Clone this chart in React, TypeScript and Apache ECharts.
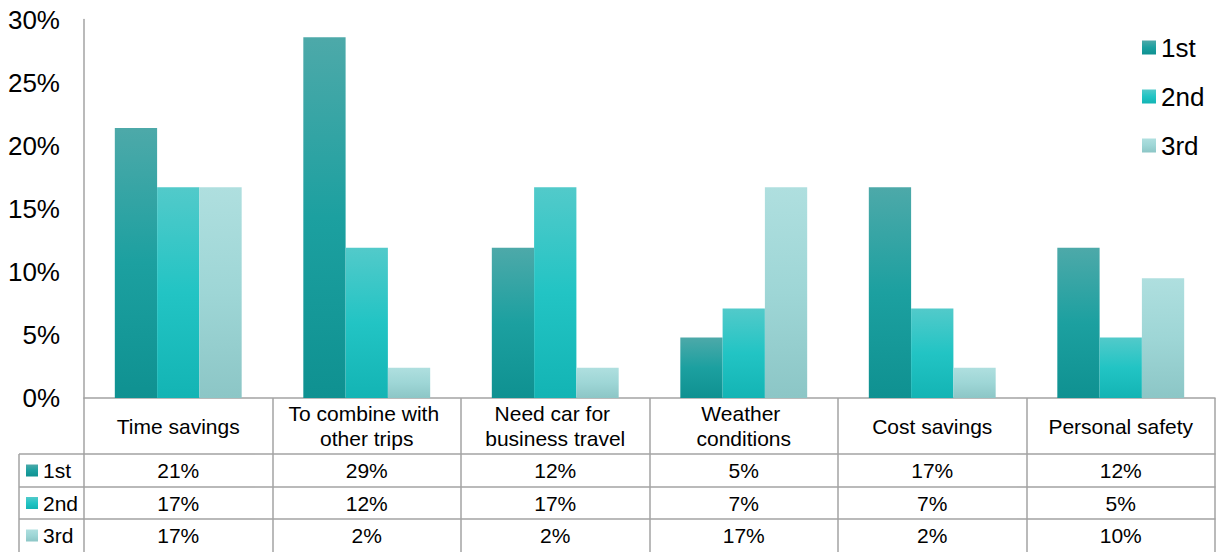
import { useEffect, useRef } from "react";
import * as echarts from "echarts";

// Reasons for driving, ranked 1st / 2nd / 3rd (share of respondents, %)
const categories = [
  "Time savings",
  "To combine with other trips",
  "Need car for business travel",
  "Weather conditions",
  "Cost savings",
  "Personal safety",
];
const seriesNames = ["1st", "2nd", "3rd"];
const firstValues = [21.4, 28.6, 11.9, 4.8, 16.7, 11.9];
const secondValues = [16.7, 11.9, 16.7, 7.1, 7.1, 4.8];
const thirdValues = [16.7, 2.4, 2.4, 16.7, 2.4, 9.5];
const yMin = 0;
const yMax = 30;
const yStep = 5;

// Layout
const WIDTH = 1216;
const HEIGHT = 552;
const GRID = { left: 84, right: 1, top: 19.5, bottom: 154 };
const TABLE_LEFT = 19;
const ROW_OFFSETS = [56, 89, 121]; // distance of each table row's top border below the x axis
const ROW_LABEL_MARGINS = [16.5, 16, 16.5];
const FONT = 'Arial, "Liberation Sans", sans-serif';
const BORDER = { color: "#A3A3A3", width: 1.5 };

const gradients = [
  ["#4DA9A9", "#1CA0A0", "#0F9191"],
  ["#52CACA", "#22C4C4", "#13B4B4"],
  ["#AFDFDF", "#9ED6D6", "#8CC6C6"],
];

const grad = (stops: string[]) =>
  new echarts.graphic.LinearGradient(
    0,
    0,
    0,
    1,
    stops.map((color, i) => ({ offset: i / (stops.length - 1), color }))
  );

const pct = (v: number) => `${Math.round(v)}%`;

export default function App() {
  const ref = useRef<HTMLDivElement>(null);

  useEffect(() => {
    if (!ref.current) return;
    const chart = echarts.init(ref.current, undefined, { renderer: "svg" });
    const rows = [firstValues, secondValues, thirdValues];
    const axisY = HEIGHT - GRID.bottom;

    const rowAxis = (values: number[], i: number) => ({
      type: "category",
      data: categories,
      gridIndex: 0,
      position: "bottom",
      offset: ROW_OFFSETS[i],
      axisLine: { show: true, onZero: false, lineStyle: BORDER },
      axisTick: { show: false },
      axisLabel: {
        interval: 0,
        margin: ROW_LABEL_MARGINS[i],
        verticalAlign: "middle",
        fontSize: 21,
        color: "#000",
        fontFamily: FONT,
        formatter: (_v: string, idx: number) => pct(values[idx]),
      },
    });

    // Left column of the data table: outer borders
    const columnLines = [
      {
        type: "line",
        shape: { x1: TABLE_LEFT, y1: axisY + ROW_OFFSETS[0], x2: TABLE_LEFT, y2: HEIGHT },
        style: { stroke: BORDER.color, lineWidth: BORDER.width },
      },
      ...ROW_OFFSETS.map((off) => ({
        type: "line",
        shape: { x1: TABLE_LEFT, y1: axisY + off, x2: GRID.left, y2: axisY + off },
        style: { stroke: BORDER.color, lineWidth: BORDER.width },
      })),
    ];

    chart.setOption({
      animation: false,
      backgroundColor: "#fff",
      textStyle: { fontFamily: FONT },
      grid: { ...GRID, containLabel: false },
      legend: [
        {
          data: seriesNames,
          orient: "vertical",
          left: 1142,
          top: 32.5,
          padding: 0,
          icon: "rect",
          itemWidth: 14,
          itemHeight: 14,
          itemGap: 19,
          selectedMode: false,
          textStyle: { fontSize: 26, lineHeight: 30, color: "#000", fontFamily: FONT },
        },
        {
          data: seriesNames,
          orient: "vertical",
          left: 26,
          top: axisY + ROW_OFFSETS[0] + 4.5,
          padding: 0,
          icon: "rect",
          itemWidth: 12,
          itemHeight: 12,
          itemGap: 8.5,
          selectedMode: false,
          textStyle: { fontSize: 21, lineHeight: 24, color: "#000", fontFamily: FONT },
        },
      ],
      xAxis: [
        {
          type: "category",
          data: categories,
          position: "bottom",
          axisLine: { show: true, onZero: false, lineStyle: BORDER },
          axisTick: {
            show: true,
            interval: 0,
            length: GRID.bottom,
            lineStyle: BORDER,
          },
          axisLabel: {
            interval: 0,
            margin: 28,
            width: 170,
            overflow: "break",
            verticalAlign: "middle",
            align: "center",
            lineHeight: 25,
            fontSize: 21,
            color: "#000",
            fontFamily: FONT,
          },
        },
        ...rows.map((values, i) => rowAxis(values, i)),
      ],
      yAxis: {
        type: "value",
        min: yMin,
        max: yMax,
        interval: yStep,
        axisLine: { show: true, lineStyle: BORDER },
        axisTick: { show: false },
        splitLine: { show: false },
        axisLabel: {
          formatter: "{value}%",
          fontSize: 26,
          margin: 24,
          color: "#000",
          fontFamily: FONT,
        },
      },
      series: rows.map((values, i) => ({
        name: seriesNames[i],
        type: "bar",
        xAxisIndex: 0,
        data: values,
        barGap: "0%",
        barCategoryGap: "32.7%",
        itemStyle: { color: grad(gradients[i]) },
      })),
      graphic: columnLines,
    });

    return () => chart.dispose();
  }, []);

  return (
    <div
      ref={ref}
      style={{ position: "fixed", left: 0, top: 0, width: WIDTH, height: HEIGHT }}
    />
  );
}
